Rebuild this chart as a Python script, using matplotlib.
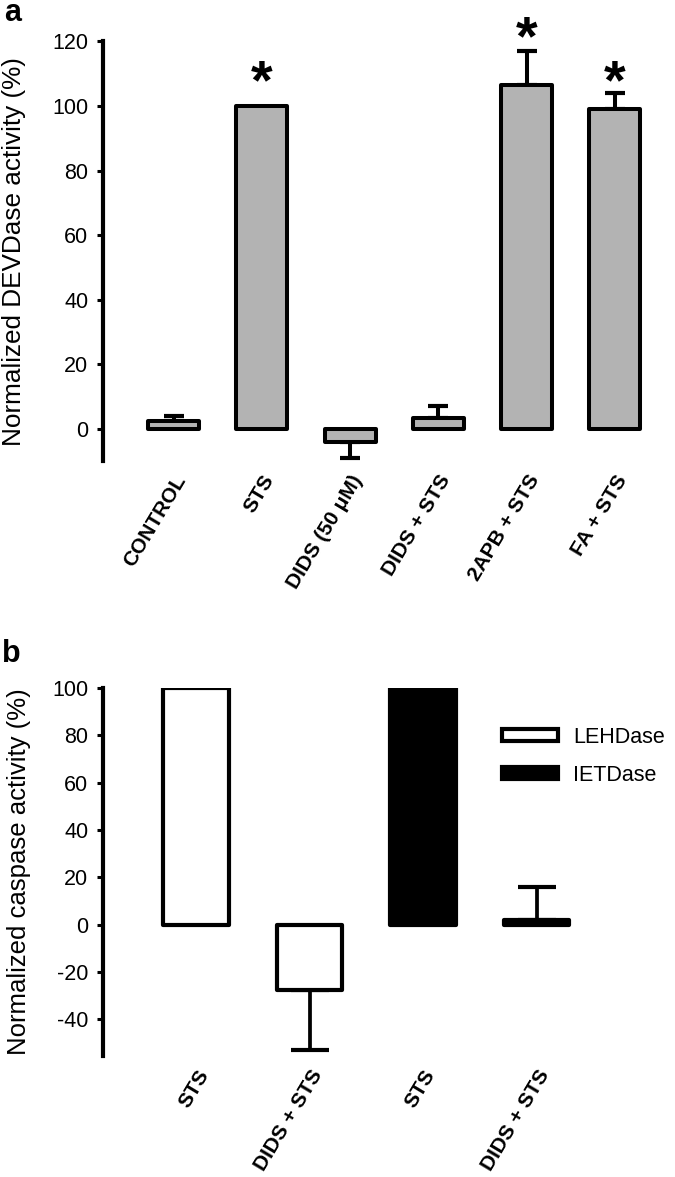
import numpy as np
import matplotlib.pyplot as plt
from matplotlib.patches import Patch

plt.rcParams['font.family'] = ['Liberation Sans', 'DejaVu Sans']
plt.rcParams['axes.unicode_minus'] = False

# panel a data
cats_a = ['CONTROL', 'STS', 'DIDS (50 \u03bcM)', 'DIDS + STS', '2APB + STS', 'FA + STS']
vals_a = [2.5, 100, -4, 3.5, 106.5, 99]
err_a = [1.5, 0, 5, 3.5, 10.5, 5]
star_a = [None, 112, None, None, 125.7, 112]   # height of the * marks

# panel b data
cats_b = ['STS', 'DIDS + STS', 'STS', 'DIDS + STS']
vals_b = [100, -27.5, 100, 2]
err_b = [0, 25.5, 0, 13.7]
series_b = ['LEHDase', 'LEHDase', 'IETDase', 'IETDase']
colors_b = {'LEHDase': 'white', 'IETDase': 'black'}

W, H = 675, 1177
fig = plt.figure(figsize=(W / 100, H / 100), dpi=100)


def style_axis(ax, lw):
    for sp in ['top', 'right', 'bottom']:
        ax.spines[sp].set_visible(False)
    ax.spines['left'].set_linewidth(lw)
    ax.spines['left'].set_capstyle('projecting')
    ax.tick_params(axis='x', length=0, pad=7.5)
    ax.tick_params(axis='y', labelsize=15.5, width=2.2, length=4.5, pad=6, direction='out')


### panel a
ax1 = fig.add_axes([103 / W, 0.6081, 556 / W, 0.3568])
x = np.arange(len(cats_a))
bars = ax1.bar(x, vals_a, width=0.58, color='#b3b3b3', edgecolor='black', linewidth=2.9, zorder=3)
for b in bars:
    b.set_joinstyle('round')
for xi, v, e in zip(x, vals_a, err_a):
    if e == 0:
        continue
    yerr = [[e], [0]] if v < 0 else [[0], [e]]
    ax1.errorbar(xi, v, yerr=yerr, fmt='none', ecolor='black', elinewidth=2.9,
                 capsize=7, capthick=3, zorder=2)
for xi, s in zip(x, star_a):
    if s is not None:
        ax1.text(xi, s - 9.6, '*', ha='center', va='baseline', fontsize=40, fontweight='bold')
ax1.set_xlim(-0.8, 5.5)
ax1.set_ylim(-10, 120)
ax1.set_yticks(np.arange(0, 121, 20))
ax1.set_xticks(x)
ax1.set_xticklabels(cats_a, rotation=59, ha='right', rotation_mode='anchor',
                    fontsize=15, fontweight='bold')
style_axis(ax1, 3)
ax1.set_ylabel('Normalized DEVDase activity (%)', fontsize=18.8)
ax1.yaxis.set_label_coords(-0.138, 0.5)

### panel b
ax2 = fig.add_axes([103 / W, 0.1028, 572 / W, 0.3127])
xb = np.arange(len(cats_b))
bars = ax2.bar(xb, vals_b, width=0.58, color=[colors_b[s] for s in series_b],
               edgecolor='black', linewidth=3, zorder=3)
for b in bars:
    b.set_joinstyle('round')
for xi, v, e in zip(xb, vals_b, err_b):
    if e == 0:
        continue
    yerr = [[e], [0]] if v < 0 else [[0], [e]]
    ax2.errorbar(xi, v, yerr=yerr, fmt='none', ecolor='black', elinewidth=2.7,
                 capsize=14, capthick=3, zorder=2)
ax2.set_xlim(-0.82, 4.22)
ax2.set_ylim(-55.5, 100)
ax2.set_yticks(np.arange(-40, 101, 20))
ax2.set_xticks(xb)
ax2.set_xticklabels(cats_b, rotation=59, ha='right', rotation_mode='anchor',
                    fontsize=15, fontweight='bold')
style_axis(ax2, 3)
ax2.set_ylabel('Normalized caspase activity (%)', fontsize=18.5)
ax2.yaxis.set_label_coords(-0.126, 0.5)

handles = [Patch(facecolor=colors_b[k], edgecolor='black', linewidth=3, label=k)
           for k in ['LEHDase', 'IETDase']]
ax2.legend(handles=handles, loc='upper left', bbox_to_anchor=(0.6976, 0.895),
           frameon=False, fontsize=15.5, handlelength=2.6, handleheight=0.45,
           handletextpad=0.7, labelspacing=0.8, borderpad=0, borderaxespad=0)

fig.text(4 / W, 1 - 21 / H, 'a', fontsize=22, fontweight='bold', va='baseline', ha='left')
fig.text(2 / W, 1 - 662 / H, 'b', fontsize=22, fontweight='bold', va='baseline', ha='left')

fig.savefig('out.png', dpi=100)
plt.close(fig)
